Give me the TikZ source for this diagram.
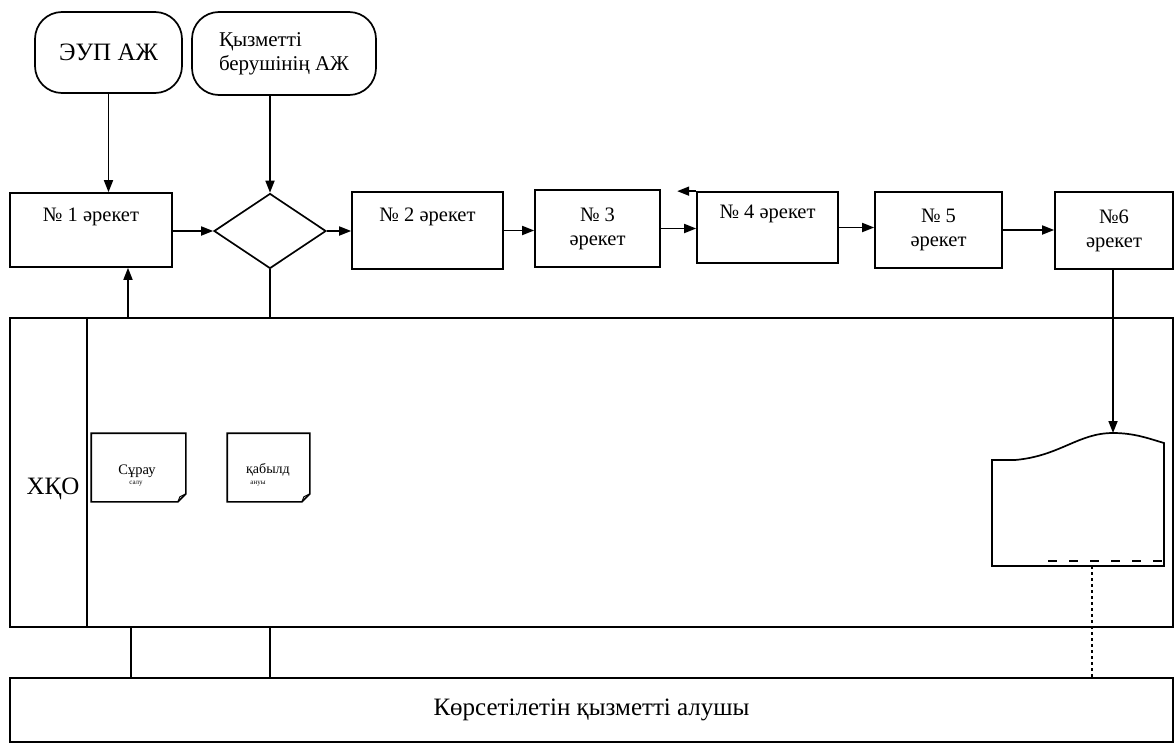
\documentclass[tikz,border=0pt]{standalone}
\usepackage{fontspec}
\setmainfont{Liberation Serif}
\usetikzlibrary{arrows.meta,shapes.geometric,calc}
\begin{document}
\begin{tikzpicture}[x=1pt,y=-1pt,
  line width=1.7pt,
  arr/.style={-{Triangle[length=12pt,width=9pt]}},
  term/.style={draw,rounded corners=27pt,inner sep=0pt},
  actbox/.style={draw,inner sep=0pt,align=center,font=\fontsize{20.5}{24}\selectfont},
  docbox/.style={inner sep=0pt},
  lanebox/.style={draw,inner sep=0pt}]
\useasboundingbox (0,0) rectangle (1174,744);
% top sources
\node[term,minimum width=147pt,minimum height=81pt,font=\fontsize{25}{28}\selectfont] (eup) at (108.5,52.5) {ЭУП АЖ};
\node[term,minimum width=184pt,minimum height=83pt,align=left,font=\fontsize{21}{24}\selectfont] (kyz) at (284,53.5) {Қызметті\\берушінің АЖ};
% actions
\node[actbox,minimum width=162pt,minimum height=74pt] (a1) at (91,230) {№ 1 әрекет\\\strut};
\node[draw,diamond,inner sep=0pt,aspect=1.5,minimum width=112pt,minimum height=75pt] (dia) at (270,231) {};
\node[actbox,minimum width=151pt,minimum height=77pt] (a2) at (427.5,230.5) {№ 2 әрекет\\\strut};
\node[actbox,minimum width=125pt,minimum height=77pt] (a3) at (597.5,228.5) {№ 3\\әрекет};
\node[actbox,minimum width=141pt,minimum height=71pt] (a4) at (767.5,227.5) {№ 4 әрекет\\\strut};
\node[actbox,minimum width=127pt,minimum height=76pt] (a5) at (938.5,230) {№ 5\\әрекет};
\node[actbox,minimum width=118pt,minimum height=77pt] (a6) at (1114,230.5) {№6\\әрекет};
% lane
\node[lanebox,minimum width=1163pt,minimum height=309pt] (lane) at (591.5,472.5) {};
\coordinate (divtop) at (87,318);
\coordinate (divbot) at (87,627);
\draw[line width=1.2pt] (divtop) -- (divbot);
\node[font=\fontsize{25}{28}\selectfont] (hko) at (53,489) {ХҚО};
% bottom
\node[lanebox,minimum width=1163pt,minimum height=64pt,font=\fontsize{25}{28}\selectfont] (rcv) at (591.5,710) {Көрсетілетін қызметті алушы};
% documents
\node[docbox,minimum width=93pt,minimum height=67pt] (d1) at (138.5,467.5) {};
\node[docbox,minimum width=81pt,minimum height=67pt] (d2) at (268.5,467.5) {};
\foreach \d in {d1,d2}{
  \draw (\d.north west) -- (\d.north east) -- ($(\d.south east)+(0,-8)$) -- ($(\d.south east)+(-8,0)$) -- (\d.south west) -- cycle;
  \draw[line width=1pt] ($(\d.south east)+(0,-8)$) -- ($(\d.south east)+(-6,-5)$) -- ($(\d.south east)+(-8,0)$);
}
\node[font=\fontsize{14.5}{16}\selectfont] (t1) at (137,471) {Сұрау};
\node[font=\fontsize{7}{8}\selectfont] (t1b) at (136,484) {салу};
\node[font=\fontsize{14}{16}\selectfont] (t2) at (268,470) {қабылд};
\node[font=\fontsize{7}{8}\selectfont] (t2b) at (258,484) {ануы};
% result document
\coordinate (d3top) at (1113,433);
\coordinate (d3bot) at (1092,566);
\draw (992,566) -- (992,460) -- (1015,460) .. controls (1060,456) and (1078,433) .. (d3top) .. controls (1135,433) and (1150,439) .. (1164,443) -- (1164,566) -- cycle;
\draw[line width=1.4pt,dash pattern=on 9pt off 12pt] (1048,561) -- (1174,561);
% connectors
\draw[arr] (eup.south) -- (eup.south |- a1.north);
\draw[arr] (kyz.south -| dia.north) -- (dia.north);
\draw[arr] (a1.east |- dia.west) -- (dia.west);
\draw[arr] (dia.east) -- (dia.east -| a2.west);
\draw[arr] (a2.east) -- (a2.east -| a3.west);
\draw[arr] (a3.east) -- (a3.east -| a4.west);
\draw[arr] (a4.east) -- (a4.east -| a5.west);
\draw[arr] (a5.east) -- (a5.east -| a6.west);
\draw[arr] (a4.north west) -- ++(-19,0);
\draw[arr] (a6.south -| d3top) -- (d3top);
\coordinate (up1) at (128,318);
\draw[arr] (up1) -- (up1 |- a1.south);
\draw (dia.south) -- (dia.south |- lane.north);
\coordinate (l1) at (131,627);
\coordinate (l2) at (270,627);
\draw (l1) -- (l1 |- rcv.north);
\draw (l2) -- (l2 |- rcv.north);
\draw[dashed,line width=1.1pt] (d3bot) -- (d3bot |- rcv.north);
\end{tikzpicture}
\end{document}
